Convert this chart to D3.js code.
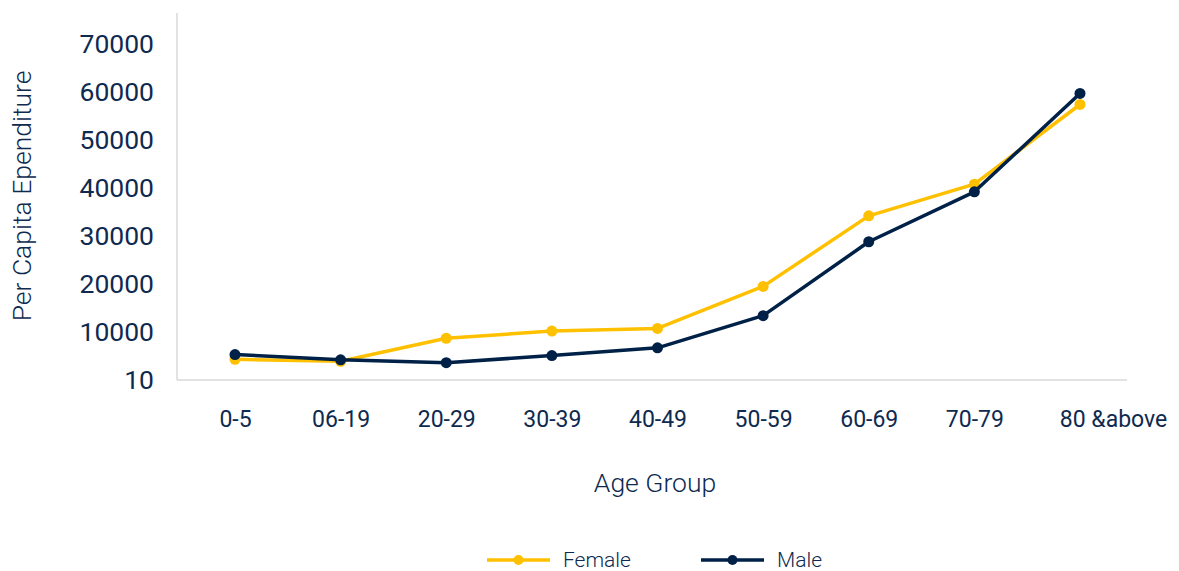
<!DOCTYPE html>
<html>
<head>
<meta charset="utf-8">
<script src="https://cdn.jsdelivr.net/npm/d3@7"></script>
<style>
  html, body { margin: 0; padding: 0; background: #fff; }
  svg { display: block; }
  svg text { font-family: Roboto, "Noto Sans", sans-serif; }
</style>
</head>
<body>
<svg id="chart" width="1179" height="571"></svg>
<script>
// Age groups on the x axis
const categories = ["0-5", "06-19", "20-29", "30-39", "40-49", "50-59", "60-69", "70-79", "80 &above"];
// Per capita expenditure by age group
const femaleValues = [4300, 3900, 8700, 10200, 10750, 19500, 34200, 40800, 57400];
const maleValues   = [5300, 4200, 3600, 5100, 6700, 13400, 28800, 39200, 59700];
// Y axis ticks and their labels
const yTickValues = [10, 10000, 20000, 30000, 40000, 50000, 60000, 70000];
const seriesNames = ["Female", "Male"];

const colors = { Female: "#FFC000", Male: "#002147" };
const textColor = "#0E2A4F";
const axisColor = "#D9D9D9";

const svg = d3.select("#chart");

const plot = { left: 177, right: 1127, top: 13, bottom: 380 };

const x = d3.scalePoint()
  .domain(categories)
  .range([235, 1080]);

const y = d3.scaleLinear()
  .domain([0, 70000])
  .range([plot.bottom, 44]);

// Axis lines
svg.append("line")
  .attr("x1", plot.left).attr("x2", plot.left)
  .attr("y1", plot.top).attr("y2", plot.bottom)
  .attr("stroke", axisColor).attr("stroke-width", 1.5);
svg.append("line")
  .attr("x1", plot.left).attr("x2", plot.right)
  .attr("y1", plot.bottom).attr("y2", plot.bottom)
  .attr("stroke", axisColor).attr("stroke-width", 1.5);

// Y axis tick labels
const yAxis = d3.axisLeft(y)
  .tickValues(yTickValues)
  .tickSize(0)
  .tickPadding(0)
  .tickFormat(d => String(d));
const yg = svg.append("g")
  .attr("transform", `translate(154,0)`)
  .call(yAxis);
yg.select(".domain").remove();
yg.selectAll("text")
  .attr("fill", textColor)
  .style("font-family", "Roboto, 'Noto Sans', sans-serif")
  .style("font-size", "26.5px")
  .attr("dy", "0.33em");

// X axis tick labels; the last label sits further right
const xAxis = d3.axisBottom(x).tickSize(0).tickPadding(0);
const xg = svg.append("g")
  .attr("transform", `translate(0,419)`)
  .call(xAxis);
xg.select(".domain").remove();
xg.selectAll("text")
  .attr("fill", textColor)
  .style("font-family", "Roboto, 'Noto Sans', sans-serif")
  .style("font-size", "23px")
  .attr("dy", "0.35em")
  .attr("y", 0)
  .attr("dx", (d, i) => i === categories.length - 1 ? 33 : 0);

// Axis titles
svg.append("text")
  .attr("transform", "translate(31,196) rotate(-90)")
  .attr("text-anchor", "middle")
  .attr("fill", textColor)
  .style("font-size", "26.5px")
  .style("font-weight", 300)
  .text("Per Capita Ependiture");

svg.append("text")
  .attr("x", 655).attr("y", 492)
  .attr("text-anchor", "middle")
  .attr("fill", textColor)
  .style("font-size", "26.5px")
  .style("font-weight", 300)
  .text("Age Group");

// Series lines and markers
const series = [
  { name: "Female", values: femaleValues },
  { name: "Male", values: maleValues }
];

const line = d3.line()
  .x((d, i) => x(categories[i]))
  .y(d => y(d));

series.forEach(s => {
  svg.append("path")
    .datum(s.values)
    .attr("fill", "none")
    .attr("stroke", colors[s.name])
    .attr("stroke-width", 3.5)
    .attr("stroke-linejoin", "round")
    .attr("d", line);
  svg.selectAll(null)
    .data(s.values)
    .enter().append("circle")
    .attr("cx", (d, i) => x(categories[i]))
    .attr("cy", d => y(d))
    .attr("r", 5.5)
    .attr("fill", colors[s.name]);
});

// Legend
const legendItems = [
  { name: seriesNames[0], x: 487 },
  { name: seriesNames[1], x: 701 }
];
const legendY = 560;
legendItems.forEach(item => {
  const g = svg.append("g").attr("transform", `translate(${item.x},${legendY})`);
  g.append("line")
    .attr("x1", 0).attr("x2", 63)
    .attr("y1", 0).attr("y2", 0)
    .attr("stroke", colors[item.name]).attr("stroke-width", 3.5);
  g.append("circle")
    .attr("cx", 31.5).attr("cy", 0).attr("r", 5)
    .attr("fill", colors[item.name]);
  g.append("text")
    .attr("x", 76).attr("y", 0).attr("dy", "0.35em")
    .attr("fill", textColor)
    .style("font-size", "21px")
    .style("font-weight", 300)
    .text(item.name);
});
</script>
</body>
</html>
